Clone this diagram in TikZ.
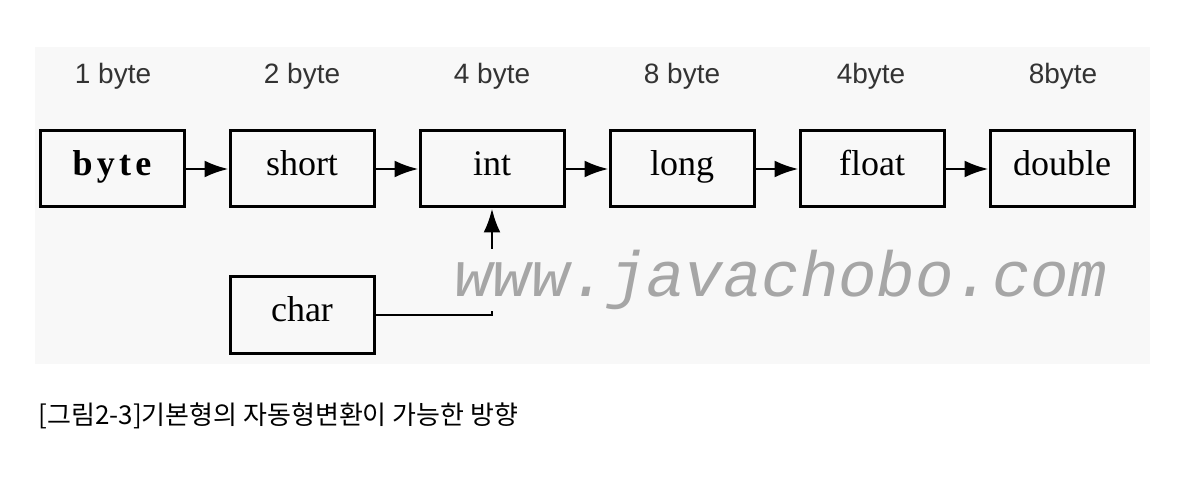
\documentclass[tikz,border=0pt]{standalone}
\usepackage{fontspec}
\setmainfont{Liberation Serif}
\setsansfont{Liberation Sans}
\newfontfamily\kofont{Noto Sans CJK KR}
\newfontfamily\markfont{Liberation Mono}
\newfontfamily\spacedfont[LetterSpace=12]{Liberation Serif}
\usetikzlibrary{positioning,arrows.meta}
\definecolor{panelgray}{HTML}{F8F8F8}

\begin{document}
\begin{tikzpicture}[x=1pt, y=-1pt,
  typebox/.style={draw, line width=3pt, minimum width=144pt, minimum height=76pt, inner sep=0pt, text height=25pt, text depth=12pt, font=\fontsize{36}{36}\selectfont},
  size/.style={anchor=base, font=\sffamily\fontsize{28}{28}\selectfont, text=black!80},
  arrow/.style={-{Latex[length=24pt,width=17pt]}, line width=2.8pt},
  font=\small
]
  \useasboundingbox (0,0) rectangle (1196,478);
  \fill[panelgray] (35,47) rectangle (1150,364);

  % type boxes
  \node[typebox] (byte) at (112,169) {\spacedfont\bfseries byte};
  \node[typebox] (short) at (302,169) {short};
  \node[typebox] (int) at (492,169) {int};
  \node[typebox] (long) at (682,169) {long};
  \node[typebox] (float) at (872,169) {float};
  \node[typebox] (double) at (1062,169) {double};
  \node[typebox] (char) at (302,315) {char};

  % sizes
  \node[size] (szbyte) at (113,84) {1 byte};
  \node[size] (szshort) at (302,84) {2 byte};
  \node[size] (szint) at (492,84) {4 byte};
  \node[size] (szlong) at (682,84) {8 byte};
  \node[size] (szfloat) at (871,84) {4byte};
  \node[size] (szdouble) at (1063,84) {8byte};

  \draw[arrow] (byte) -- (short);
  \draw[arrow] (short) -- (int);
  \draw[arrow] (int) -- (long);
  \draw[arrow] (long) -- (float);
  \draw[arrow] (float) -- (double);
  \draw[arrow] (char.east) -| (int.south);

  \node[font=\markfont\itshape\fontsize{64}{64}\selectfont, text=black!35, fill=panelgray, inner sep=1pt] (mark) at (781,280) {www.javachobo.com};

  \node[anchor=base west, font=\kofont\fontsize{26}{26}\selectfont] (caption) at (35,424) {[그림2-3]기본형의 자동형변환이 가능한 방향};
\end{tikzpicture}
\end{document}
